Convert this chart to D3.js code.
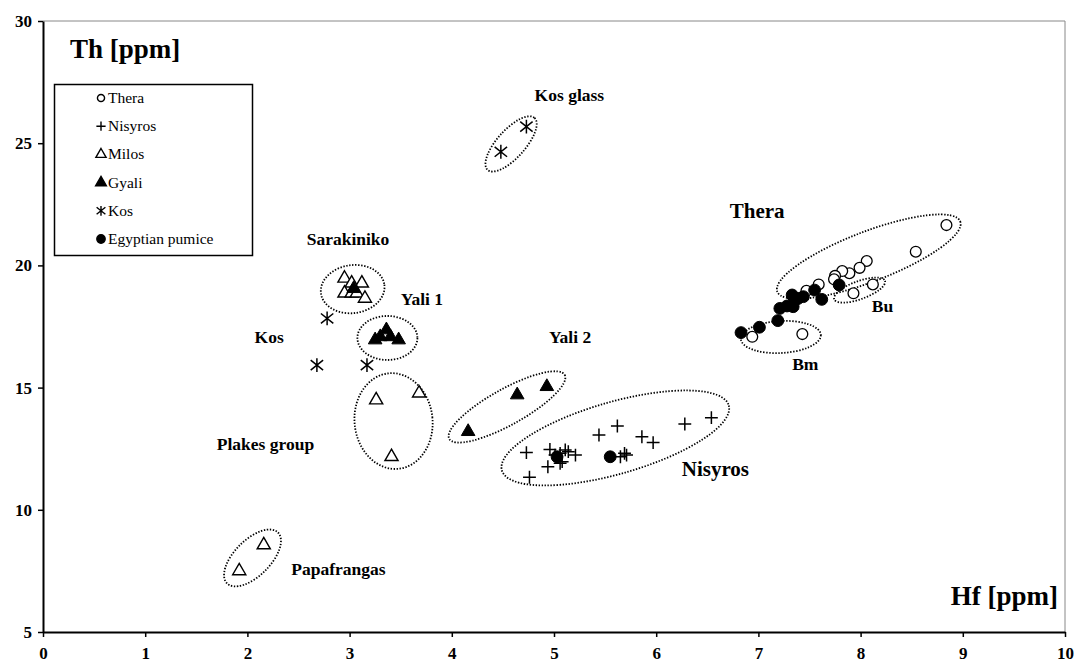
<!DOCTYPE html>
<html><head><meta charset="utf-8">
<script src="https://cdn.jsdelivr.net/npm/d3@7"></script>
<style>
html,body{margin:0;padding:0;background:#fff;}
svg{display:block;font-family:"Liberation Serif","Times New Roman",serif;}
</style></head>
<body>
<svg id="chart" width="1076" height="663"></svg>
<script>
// ---- data (Hf [ppm], Th [ppm]) ----
const theraHf   = [8.84, 8.54, 8.06, 7.99, 7.89, 7.82, 7.75, 7.74, 8.12, 7.93, 7.59, 7.47, 6.94, 7.43];
const theraTh   = [21.65, 20.56, 20.18, 19.90, 19.68, 19.77, 19.57, 19.43, 19.22, 18.86, 19.22, 18.96, 17.08, 17.19];
const nisyrosHf = [4.73, 4.76, 4.94, 4.96, 5.01, 5.06, 5.08, 5.06, 5.11, 5.14, 5.21, 5.44, 5.62, 5.86, 5.97, 5.65, 5.69, 5.71, 6.28, 6.54];
const nisyrosTh = [12.34, 11.33, 11.76, 12.47, 12.24, 12.31, 11.97, 11.90, 12.45, 12.38, 12.24, 13.06, 13.43, 12.99, 12.75, 12.17, 12.31, 12.24, 13.51, 13.77];
const milosHf   = [2.95, 3.02, 3.12, 2.95, 3.02, 3.07, 3.15, 3.26, 3.68, 3.41, 1.92, 2.16];
const milosTh   = [19.47, 19.27, 19.27, 18.86, 18.86, 18.86, 18.65, 14.49, 14.77, 12.17, 7.50, 8.56];
const gyaliHf   = [3.04, 3.25, 3.30, 3.36, 3.40, 3.48, 4.16, 4.64, 4.93];
const gyaliTh   = [19.05, 16.95, 17.08, 17.36, 17.08, 16.95, 13.20, 14.70, 15.04];
const kosHf     = [2.78, 2.68, 3.17, 4.48, 4.73];
const kosTh     = [17.83, 15.92, 15.92, 24.65, 25.68];
const egyptHf   = [6.83, 7.01, 7.19, 7.21, 7.28, 7.33, 7.36, 7.39, 7.44, 7.34, 7.55, 7.62, 7.79, 5.03, 5.55];
const egyptTh   = [17.25, 17.47, 17.74, 18.24, 18.34, 18.79, 18.58, 18.65, 18.72, 18.31, 18.99, 18.61, 19.20, 12.17, 12.17];

const xTicks = [0,1,2,3,4,5,6,7,8,9,10];
const yTicks = [5,10,15,20,25,30];
const seriesNames = ["Thera","Nisyros","Milos","Gyali","Kos","Egyptian pumice"];

// group annotations: label text, anchor (data units)
const labelText = ["Kos glass","Thera","Bu","Bm","Sarakiniko","Yali 1","Kos","Plakes group","Yali 2","Nisyros","Papafrangas"];
const labelHf   = [4.81, 6.72, 8.11, 7.33, 2.58, 3.50, 2.07, 1.70, 4.95, 6.25, 2.43];
const labelTh   = [26.73, 21.94, 18.09, 15.72, 20.83, 18.38, 16.82, 12.45, 16.82, 11.38, 7.33];
const labelBig  = [false, true, false, false, false, false, false, false, false, true, false];

// dotted group outlines: centre (data units)
const ringHf = [4.58, 3.03, 3.37, 3.43, 2.05, 4.54, 5.60, 8.08, 7.99, 7.22];
const ringTh = [24.97, 19.03, 17.03, 13.63, 8.03, 14.21, 12.94, 20.36, 18.99, 17.07];
// semi-axes (px) and rotation (deg) for each outline
const ringShape = [[35,14,-48],[32,24,-8],[30,22,0],[39,48,-6],[36,18,-45],[66,18,-29],[118,36,-16],[98,25,-21],[27,9,-20],[40,16,-3]];

// ---- chart ----
const svg = d3.select("#chart");
const L = 43, R = 1065, T = 21, B = 632;
const x = d3.scaleLinear().domain([0,10]).range([L,R]);
const y = d3.scaleLinear().domain([5,30]).range([B,T]);

// plot frame (top/right grey)
svg.append("path").attr("d",`M${L},${T}H${R}V${B}`).attr("fill","none").attr("stroke","#888").attr("stroke-width",1);

// custom symbols
const plusSym = {draw(c,s){const r=Math.sqrt(s)/2;c.moveTo(-r,0);c.lineTo(r,0);c.moveTo(0,-r);c.lineTo(0,r);}};
const starSym = {draw(c,s){const r=Math.sqrt(s)/2;c.moveTo(0,-r);c.lineTo(0,r);
  const dx=r*0.9, dy=r*0.72; c.moveTo(-dx,-dy);c.lineTo(dx,dy);c.moveTo(-dx,dy);c.lineTo(dx,-dy);}};

const styles = {
  "Thera":{type:d3.symbolCircle,size:92,fill:"#fff",stroke:"#000",sw:1.3},
  "Nisyros":{type:plusSym,size:165,fill:"none",stroke:"#000",sw:1.5},
  "Milos":{type:d3.symbolTriangle,size:75,fill:"#fff",stroke:"#000",sw:1.4},
  "Gyali":{type:d3.symbolTriangle,size:80,fill:"#000",stroke:"#000",sw:1},
  "Kos":{type:starSym,size:190,fill:"none",stroke:"#000",sw:1.5},
  "Egyptian pumice":{type:d3.symbolCircle,size:110,fill:"#000",stroke:"#000",sw:1}
};
const legendSize = {"Thera":40,"Nisyros":85,"Milos":45,"Gyali":50,"Kos":95,"Egyptian pumice":55};

// dotted outlines
svg.append("g").selectAll("ellipse").data(ringHf.map((h,i)=>({h,t:ringTh[i],s:ringShape[i]})))
  .join("ellipse")
  .attr("cx",0).attr("cy",0)
  .attr("rx",d=>d.s[0]).attr("ry",d=>d.s[1])
  .attr("transform",d=>`translate(${x(d.h)},${y(d.t)}) rotate(${d.s[2]})`)
  .attr("fill","none").attr("stroke","#000").attr("stroke-width",1.8)
  .attr("stroke-dasharray","1.4,1.6");

// points
const sets = [
  ["Thera",theraHf,theraTh],["Nisyros",nisyrosHf,nisyrosTh],["Milos",milosHf,milosTh],
  ["Gyali",gyaliHf,gyaliTh],["Kos",kosHf,kosTh],["Egyptian pumice",egyptHf,egyptTh]
];
sets.forEach(([name,hs,ts])=>{
  const st = styles[name];
  const sym = d3.symbol().type(st.type).size(st.size);
  svg.append("g").selectAll("path").data(hs.map((h,i)=>[h,ts[i]])).join("path")
    .attr("d",sym)
    .attr("transform",d=>`translate(${x(d[0])},${y(d[1])})`)
    .attr("fill",st.fill).attr("stroke",st.stroke).attr("stroke-width",st.sw);
});

// axes
const xAxis = svg.append("g").attr("transform",`translate(0,${B})`)
  .call(d3.axisBottom(x).tickValues(xTicks).tickSize(5).tickSizeOuter(0).tickPadding(10));
const yAxis = svg.append("g").attr("transform",`translate(${L},0)`)
  .call(d3.axisLeft(y).tickValues(yTicks).tickSize(5).tickSizeOuter(0).tickPadding(6));
[xAxis,yAxis].forEach(a=>{
  a.select(".domain").attr("stroke","#000").attr("stroke-width",2);
  a.selectAll(".tick line").attr("stroke","#000").attr("stroke-width",1.5);
  a.selectAll(".tick text").attr("font-family","Liberation Serif").attr("font-weight","bold")
    .attr("font-size",17).attr("fill","#000");
});

// axis titles
svg.append("text").attr("x",70).attr("y",58).attr("font-size",27).attr("font-weight","bold").text("Th [ppm]");
svg.append("text").attr("x",1058).attr("y",605).attr("text-anchor","end").attr("font-size",27).attr("font-weight","bold").text("Hf [ppm]");

// group labels
svg.append("g").selectAll("text").data(labelText).join("text")
  .attr("x",(d,i)=>x(labelHf[i])).attr("y",(d,i)=>y(labelTh[i]))
  .attr("font-weight","bold").attr("font-size",(d,i)=>labelBig[i]?21:17.5)
  .text(d=>d);

// legend
const lg = svg.append("g");
lg.append("rect").attr("x",54.5).attr("y",84.5).attr("width",198).attr("height",171)
  .attr("fill","#fff").attr("stroke","#000").attr("stroke-width",1.5);
seriesNames.forEach((name,i)=>{
  const st = styles[name];
  const cy = 98 + i*28.2;
  lg.append("path").attr("d",d3.symbol().type(st.type).size(legendSize[name]))
    .attr("transform",`translate(101,${cy})`)
    .attr("fill",st.fill).attr("stroke",st.stroke).attr("stroke-width",1.4);
  lg.append("text").attr("x",108).attr("y",cy+5).attr("font-size",15.5).text(name);
});
</script>
</body></html>
